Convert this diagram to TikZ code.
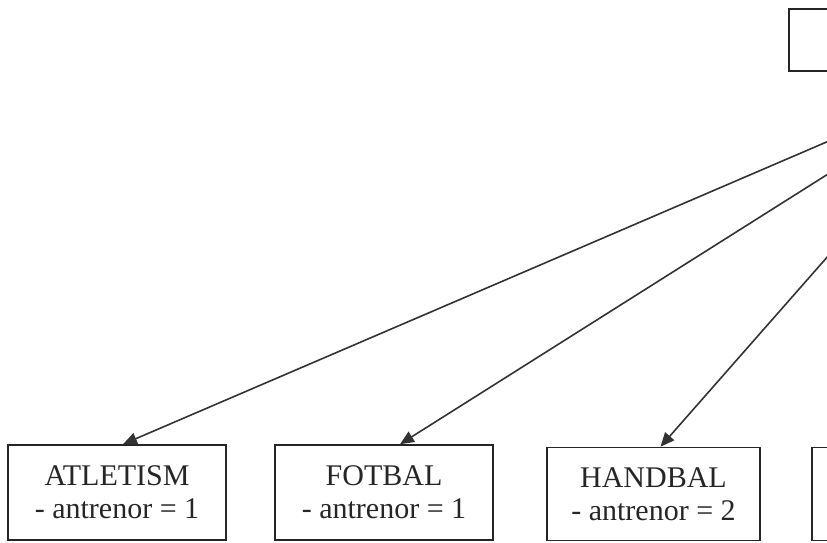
\documentclass[tikz,border=0pt]{standalone}
\usepackage{fontspec}
\setmainfont{Liberation Serif}
\usetikzlibrary{arrows.meta}
\begin{document}
\begin{tikzpicture}[x=1pt,y=-1pt,
  box/.style={draw=black!85,line width=1.6pt,inner sep=0pt,align=center,
    font=\fontsize{30}{33}\selectfont,text=black!85},
  arr/.style={draw=black!85,line width=1.6pt,-{Triangle[length=14pt,width=12pt]},
    color=black!80}]
\useasboundingbox (0,0) rectangle (827,542);
\clip (0,0) rectangle (827,542);
\node[box,minimum width=402pt,minimum height=62pt] (top) at (990,40) {};
\node[box,minimum width=218pt,minimum height=95pt] (a) at (117,492.5) {ATLETISM\\- antrenor = 1};
\node[box,minimum width=218pt,minimum height=95pt] (f) at (384,492.5) {FOTBAL\\- antrenor = 1};
\node[box,minimum width=213pt,minimum height=93pt] (h) at (653.5,494) {HANDBAL\\- antrenor = 2};
\node[box,minimum width=218pt,minimum height=93pt] (x) at (921,494) {};
\draw[arr] (top.south) -- ([xshift=6pt]a.north);
\draw[arr] (top.south) -- ([xshift=16pt]f.north);
\draw[arr] (top.south) -- ([xshift=7pt]h.north);
\end{tikzpicture}
\end{document}
